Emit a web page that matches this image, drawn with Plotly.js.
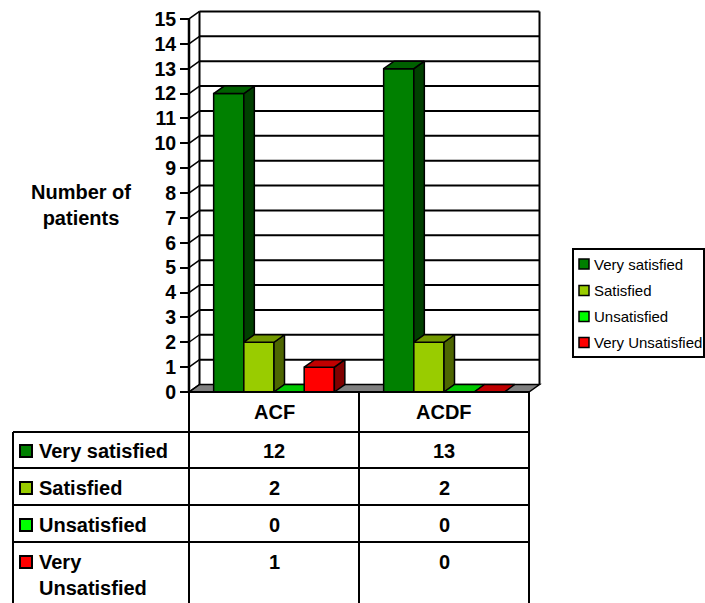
<!DOCTYPE html>
<html>
<head>
<meta charset="utf-8">
<script src="https://cdn.plot.ly/plotly-3.0.1.min.js"></script>
<style>html,body{margin:0;padding:0;background:#fff;}#chart{width:705px;height:603px;}</style>
</head>
<body>
<div id="chart"></div>
<script>
// ---- data ----
const categories = ['ACF', 'ACDF'];
const seriesNames = ['Very satisfied', 'Satisfied', 'Unsatisfied', 'Very Unsatisfied'];
const verySatisfied = [12, 13];
const satisfied = [2, 2];
const unsatisfied = [0, 0];
const veryUnsatisfied = [1, 0];
const yTickValues = [0, 1, 2, 3, 4, 5, 6, 7, 8, 9, 10, 11, 12, 13, 14, 15];
const yAxisTitle = 'Number of<br>patients';

// ---- styles ----
const frontColors = ['#008000', '#99CC00', '#00FF00', '#FF0000'];
const topColors = ['#006000', '#739900', '#00C800', '#C00000'];
const sideColors = ['#004000', '#4D6600', '#008000', '#800000'];
const FONT = 'Liberation Sans, Arial, sans-serif';

const series = [verySatisfied, satisfied, unsatisfied, veryUnsatisfied];

// geometry (pixels)
const W = 705, H = 603;
const X0 = 189, CAT = 170, Y0 = 392, UNIT = 24.87, DXP = 10.5, DYP = 7.5;
const dxU = DXP / CAT, dyU = DYP / UNIT;
const yMax = yTickValues[yTickValues.length - 1];
const xpad = 0.03, ypad = 0.12;
const xRange = [-0.5 - xpad, categories.length - 0.5 + dxU + xpad];
const yRange = [-ypad, yMax + dyU + ypad];
const xDom = [(X0 - xpad * CAT) / W, (X0 + (xRange[1] + 0.5) * CAT) / W];
const yDom = [1 - (Y0 + ypad * UNIT) / H, 1 - (Y0 - yRange[1] * UNIT) / H];
const PX = x => x / W, PY = y => 1 - y / H;

const BW = 0.1775, GOFF = -0.355;
const xIdx = categories.map((c, i) => i);

const traces = [];
// front faces: real bars
series.forEach((vals, j) => {
  traces.push({
    type: 'bar', name: seriesNames[j], x: xIdx, y: vals,
    width: BW, offset: GOFF + j * BW,
    marker: {color: frontColors[j], line: {color: '#000', width: 1.5}},
    showlegend: false, hoverinfo: 'skip'
  });
});
// 3D side and top faces computed from the same values
categories.forEach((c, i) => {
  series.forEach((vals, j) => {
    const v = vals[i];
    const vn = j < series.length - 1 ? series[j + 1][i] : 0;
    const left = i + GOFF + j * BW, right = left + BW;
    if (vn < v) {
      traces.push({type: 'scatter', mode: 'lines', fill: 'toself', fillcolor: sideColors[j],
        x: [right, right, right + dxU, right + dxU, right],
        y: [vn, v, v + dyU, vn + dyU, vn],
        line: {color: '#000', width: 1.5}, showlegend: false, hoverinfo: 'skip'});
    }
    let tx, ty;
    if (vn > v) {
      tx = [left, right, right, left + dxU, left];
      ty = [v, v, v + dyU, v + dyU, v];
    } else {
      tx = [left, right, right + dxU, left + dxU, left];
      ty = [v, v, v + dyU, v + dyU, v];
    }
    traces.push({type: 'scatter', mode: 'lines', fill: 'toself', fillcolor: topColors[j],
      x: tx, y: ty, line: {color: '#000', width: 1.5}, showlegend: false, hoverinfo: 'skip'});
  });
});

const shapes = [];
const xL = -0.5, xR = categories.length - 0.5;
// floor
shapes.push({type: 'path', xref: 'x', yref: 'y', layer: 'below',
  path: `M${xL},0 L${xR},0 L${xR + dxU},${dyU} L${xL + dxU},${dyU} Z`,
  fillcolor: '#808080', line: {color: '#000', width: 1.5}});
// back wall gridlines and left wall diagonals
yTickValues.forEach(k => {
  if (k > 0) shapes.push({type: 'line', xref: 'x', yref: 'y', layer: 'below',
    x0: xL + dxU, x1: xR + dxU, y0: k + dyU, y1: k + dyU, line: {color: '#000', width: 2}});
  shapes.push({type: 'line', xref: 'x', yref: 'y', layer: 'below',
    x0: xL, x1: xL + dxU, y0: k, y1: k + dyU, line: {color: '#000', width: 1.5}});
});
shapes.push({type: 'line', xref: 'x', yref: 'y', layer: 'below', x0: xL + dxU, x1: xL + dxU, y0: dyU, y1: yMax + dyU, line: {color: '#000', width: 2}});
shapes.push({type: 'line', xref: 'x', yref: 'y', layer: 'below', x0: xR + dxU, x1: xR + dxU, y0: dyU, y1: yMax + dyU, line: {color: '#000', width: 2}});
shapes.push({type: 'line', xref: 'x', yref: 'y', layer: 'above', x0: xL, x1: xL, y0: 0, y1: yMax, line: {color: '#000', width: 2.5}});
shapes.push({type: 'line', xref: 'x', yref: 'y', layer: 'above', x0: xL, x1: xR, y0: 0, y1: 0, line: {color: '#000', width: 2}});

// ---- data table (paper coords) ----
const tblLeft = 13;
const colX = [X0, X0 + CAT, X0 + 2 * CAT];
const rowY = [432, 468, 505, 542];
const tblBottom = 615;
const lineStyle = {color: '#000', width: 2};
colX.forEach(x => shapes.push({type: 'line', xref: 'paper', yref: 'paper', x0: PX(x), x1: PX(x), y0: PY(Y0), y1: PY(tblBottom), line: lineStyle}));
shapes.push({type: 'line', xref: 'paper', yref: 'paper', x0: PX(tblLeft), x1: PX(tblLeft), y0: PY(rowY[0]), y1: PY(tblBottom), line: lineStyle});
rowY.forEach(y => shapes.push({type: 'line', xref: 'paper', yref: 'paper', x0: PX(tblLeft), x1: PX(colX[2]), y0: PY(y), y1: PY(y), line: lineStyle}));

const annotations = [];
const boldFont = s => ({family: FONT, size: s, color: '#000', weight: 'bold'});
annotations.push({xref: 'paper', yref: 'paper', x: PX(81), y: PY(205), text: yAxisTitle, showarrow: false,
  xanchor: 'center', yanchor: 'middle', align: 'center', font: boldFont(20)});
categories.forEach((c, i) => {
  annotations.push({xref: 'paper', yref: 'paper', x: PX(X0 + (i + 0.5) * CAT), y: PY(412), text: c,
    showarrow: false, xanchor: 'center', yanchor: 'middle', font: boldFont(20)});
});
const rowTextY = [451, 488, 525, 562];
const rowLabels = ['Very satisfied', 'Satisfied', 'Unsatisfied', 'Very<br>Unsatisfied'];
series.forEach((vals, j) => {
  const ty = rowTextY[j];
  shapes.push({type: 'rect', xref: 'paper', yref: 'paper', x0: PX(20), x1: PX(32), y0: PY(ty - 6), y1: PY(ty + 6),
    fillcolor: frontColors[j], line: {color: '#000', width: 2}});
  annotations.push({xref: 'paper', yref: 'paper', x: PX(37), y: PY(ty - 13), text: rowLabels[j], showarrow: false,
    xanchor: 'left', yanchor: 'top', align: 'left', font: boldFont(20)});
  vals.forEach((v, i) => {
    annotations.push({xref: 'paper', yref: 'paper', x: PX(X0 + (i + 0.5) * CAT), y: PY(ty), text: String(v),
      showarrow: false, xanchor: 'center', yanchor: 'middle', font: boldFont(20)});
  });
});

// ---- legend (drawn) ----
shapes.push({type: 'rect', xref: 'paper', yref: 'paper', x0: PX(573), x1: PX(704), y0: PY(249), y1: PY(357),
  line: {color: '#000', width: 2}, fillcolor: 'rgba(0,0,0,0)'});
const legY = [264, 290.5, 316.5, 342.5];
seriesNames.forEach((n, j) => {
  shapes.push({type: 'rect', xref: 'paper', yref: 'paper', x0: PX(579), x1: PX(589), y0: PY(legY[j] - 5), y1: PY(legY[j] + 5),
    fillcolor: frontColors[j], line: {color: '#000', width: 1.5}});
  annotations.push({xref: 'paper', yref: 'paper', x: PX(592), y: PY(legY[j]), text: n, showarrow: false,
    xanchor: 'left', yanchor: 'middle', font: {family: FONT, size: 15, color: '#000'}});
});

const layout = {
  width: W, height: H, autosize: false,
  margin: {l: 0, r: 0, t: 0, b: 0},
  paper_bgcolor: '#fff', plot_bgcolor: '#fff',
  barmode: 'overlay', showlegend: false,
  xaxis: {domain: xDom, range: xRange, visible: false, fixedrange: true},
  yaxis: {domain: yDom, range: yRange, anchor: 'free', position: PX(X0),
    tickvals: yTickValues, ticktext: yTickValues.map(String),
    ticks: 'outside', ticklen: 9, tickwidth: 2, tickcolor: '#000',
    showgrid: false, zeroline: false, showline: false, fixedrange: true,
    tickfont: {family: FONT, size: 19.5, color: '#000', weight: 'bold'}},
  shapes: shapes, annotations: annotations
};

Plotly.newPlot('chart', traces, layout, {staticPlot: true, displayModeBar: false});
</script>
</body>
</html>
